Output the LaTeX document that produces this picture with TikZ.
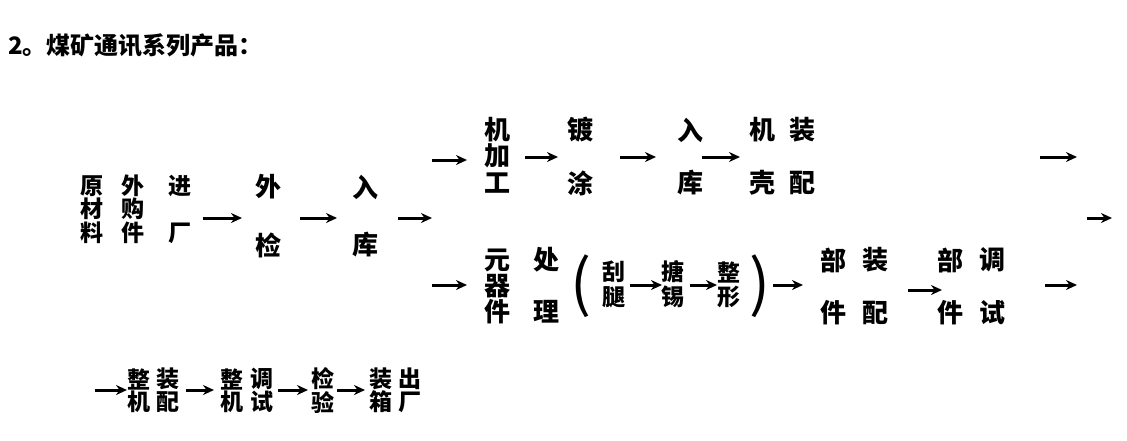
\documentclass[tikz,border=0pt]{standalone}
\usepackage{fontspec}
\setmainfont{Noto Sans CJK SC}
\usetikzlibrary{arrows.meta}
\newcommand\myarr[4]{\coordinate (#1a) at (#2,#4); \coordinate (#1b) at (#3,#4); \draw[ar] (#1a)--(#1b);}
\begin{document}
\begin{tikzpicture}[x=1pt,y=-1pt,
  c/.style={inner sep=0pt,font=\fontsize{26}{26}\selectfont\bfseries},
  cc/.style={inner sep=0pt,font=\fontsize{23}{23}\selectfont\bfseries},
  s/.style={inner sep=0pt,font=\fontsize{23}{23}\selectfont\bfseries},
  ar/.style={line width=3pt,-{Stealth[length=11pt,width=10pt]}}]
\useasboundingbox (0,0) rectangle (1127,440);
\node[anchor=west,inner sep=0pt,font=\fontsize{24}{24}\selectfont\bfseries] (title) at (8,45) {2。煤矿通讯系列产品：};
% first block
\node[cc] (a1) at (92,186) {原}; \node[cc] (a2) at (92,209) {材}; \node[cc] (a3) at (92,233) {料};
\node[cc] (b1) at (133,186) {外}; \node[cc] (b2) at (133,209) {购}; \node[cc] (b3) at (133,233) {件};
\node[cc] (c1) at (180,186) {进}; \node[cc] (c3) at (180,233) {厂};
\myarr{e1}{203}{242}{218}
\node[c] (d1) at (268,187) {外}; \node[c] (d3) at (268,245) {检};
\myarr{e2}{300}{337}{218}
\node[c] (f1) at (365,187) {入}; \node[c] (f3) at (365,245) {库};
\myarr{e3}{398}{432}{218}
% top branch
\myarr{t1}{432}{467}{160}
\node[c] (g1) at (497,130) {机}; \node[c] (g2) at (497,156) {加}; \node[c] (g3) at (497,183) {工};
\myarr{t2}{525}{558}{157}
\node[c] (h1) at (580,130) {镀}; \node[c] (h3) at (580,183) {涂};
\myarr{t3}{620}{656}{157}
\node[c] (i1) at (690,130) {入}; \node[c] (i3) at (690,183) {库};
\myarr{t4}{702}{740}{157}
\node[c] (j1) at (762,130) {机}; \node[c] (j2) at (802,130) {装};
\node[c] (j3) at (762,183) {壳}; \node[c] (j4) at (802,183) {配};
\myarr{t5}{1040}{1077}{157}
\myarr{t6}{1087}{1112}{218}
% bottom branch
\myarr{u1}{432}{467}{285}
\node[c] (k1) at (497,260) {元}; \node[c] (k2) at (497,286) {器}; \node[c] (k3) at (497,312) {件};
\node[c] (l1) at (546,260) {处}; \node[c] (l3) at (546,312) {理};
\node[inner sep=0pt,font=\fontsize{62}{62}\selectfont] (p1) at (581,286) {(};
\node[s] (m1) at (614,272) {刮}; \node[s] (m2) at (614,297) {腿};
\myarr{u2}{630}{662}{285}
\node[s] (n1) at (673,272) {搪}; \node[s] (n2) at (673,297) {锡};
\myarr{u3}{690}{717}{285}
\node[s] (o1) at (729,272) {整}; \node[s] (o2) at (729,297) {形};
\node[inner sep=0pt,font=\fontsize{62}{62}\selectfont] (p2) at (760,286) {)};
\myarr{u4}{773}{803}{285}
\node[c] (q1) at (833,260) {部}; \node[c] (q2) at (875,260) {装};
\node[c] (q3) at (833,313) {件}; \node[c] (q4) at (875,313) {配};
\myarr{u5}{908}{942}{290}
\node[c] (r1) at (950,260) {部}; \node[c] (r2) at (992,260) {调};
\node[c] (r3) at (950,313) {件}; \node[c] (r4) at (992,313) {试};
\myarr{u6}{1045}{1077}{285}
% last row
\myarr{v1}{95}{127}{390}
\node[s] (w1) at (139,379) {整}; \node[s] (w2) at (168,379) {装};
\node[s] (w3) at (139,402) {机}; \node[s] (w4) at (168,402) {配};
\myarr{v2}{186}{214}{390}
\node[s] (x1) at (232,379) {整}; \node[s] (x2) at (262,379) {调};
\node[s] (x3) at (232,402) {机}; \node[s] (x4) at (262,402) {试};
\myarr{v3}{278}{308}{390}
\node[s] (y1) at (323,379) {检}; \node[s] (y3) at (323,402) {验};
\myarr{v4}{337}{365}{390}
\node[s] (z1) at (381,379) {装}; \node[s] (z2) at (410,379) {出};
\node[s] (z3) at (381,402) {箱}; \node[s] (z4) at (410,402) {厂};
\end{tikzpicture}
\end{document}
